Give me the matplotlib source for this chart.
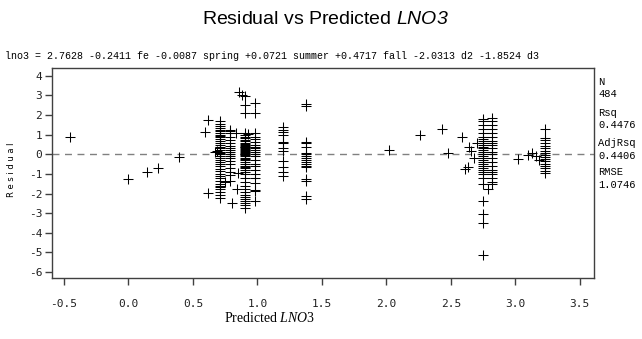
import matplotlib
matplotlib.use("Agg")
import matplotlib.pyplot as plt
import numpy as np

plt.rcParams['mathtext.fontset'] = 'custom'
plt.rcParams['mathtext.sf'] = 'Liberation Sans:italic'
plt.rcParams['mathtext.it'] = 'Liberation Serif:italic'
plt.rcParams['mathtext.rm'] = 'Liberation Serif'

# ---- data: predicted value columns and residuals ----
col_x = [0.71, 0.79, 0.90, 0.98, 1.20, 1.38, 2.75, 2.82, 3.23]
col_res = [
    [1.7, 1.55, 1.45, 1.35, 1.25, 1.2, 1.1, 1.0, 0.95, 0.9, 0.8, 0.7, 0.6, 0.5, 0.4, 0.3, 0.2, 0.1,
     0.05, 0.0, -0.1, -0.2, -0.3, -0.4, -0.5, -0.6, -0.75, -0.85, -1.0, -1.1, -1.2, -1.35, -1.5,
     -1.6, -1.65, -1.75, -1.9, -2.05, -2.2],
    [1.25, 1.2, 1.1, 0.9, 0.75, 0.6, 0.45, 0.3, 0.2, 0.1, 0.0, -0.1, -0.2, -0.35, -0.5, -0.7, -0.9,
     -1.05, -1.35],
    [2.95, 2.5, 2.1, 1.1, 1.0, 0.9, 0.85, 0.75, 0.7, 0.6, 0.55, 0.5, 0.45, 0.4, 0.35, 0.3, 0.25, 0.2,
     0.15, 0.1, 0.05, 0.0, -0.05, -0.1, -0.2, -0.25, -0.3, -0.4, -0.5, -0.6, -0.65, -0.7, -0.8, -0.9,
     -1.0, -1.2, -1.4, -1.6, -1.75, -1.9, -2.05, -2.15, -2.25, -2.4, -2.5, -2.6, -2.75],
    [2.6, 2.1, 1.1, 0.9, 0.8, 0.65, 0.5, 0.4, 0.3, 0.2, 0.1, 0.0, -0.1, -0.3, -0.5, -0.6, -0.8, -1.0,
     -1.2, -1.45, -1.8, -1.85, -2.4],
    [1.4, 1.25, 1.15, 1.0, 0.65, 0.6, 0.3, 0.15, -0.35, -0.65, -0.9, -1.1],
    [2.55, 2.45, 0.65, 0.6, 0.35, 0.05, 0.0, -0.1, -0.2, -0.3, -0.4, -0.5, -0.6, -0.65, -1.25, -1.35,
     -2.1, -2.25],
    [1.8, 1.7, 1.5, 1.3, 1.1, 0.9, 0.8, 0.7, 0.6, 0.5, 0.4, 0.3, 0.2, 0.1, 0.0, -0.1, -0.2, -0.3,
     -0.4, -0.5, -0.6, -0.7, -0.8, -0.9, -1.0, -1.2, -1.5, -2.4, -3.05, -3.5, -5.15],
    [1.85, 1.7, 1.5, 1.3, 1.1, 0.9, 0.7, 0.6, 0.5, 0.3, 0.1, 0.0, -0.2, -0.4, -0.6, -0.8, -0.9, -1.0,
     -1.2, -1.4, -1.5],
    [1.3, 0.85, 0.75, 0.6, 0.45, 0.3, 0.15, 0.05, -0.05, -0.15, -0.25, -0.35, -0.5, -0.6, -0.7, -0.85,
     -0.95],
]
# scattered individual points
sc_x = [-0.45, 0.0, 0.14, 0.23, 0.39, 0.62, 0.59, 0.62, 0.67, 0.69, 0.75, 0.80, 0.83, 0.85, 0.84,
        0.88, 0.86, 0.93, 2.02, 2.26, 2.43, 2.48, 2.59, 2.64, 2.66, 2.68, 2.63, 2.61, 2.70, 2.79,
        3.02, 3.10, 3.13, 3.16, 3.18]
sc_y = [0.9, -1.25, -0.88, -0.7, -0.15, 1.75, 1.15, -1.95, 0.1, 0.15, -1.4, -2.5, 1.1, -0.95,
        -1.75, 3.0, 3.2, 1.05, 0.2, 1.0, 1.3, 0.05, 0.9, 0.35, 0.15, -0.2, -0.65, -0.75, 0.6, -1.75,
        -0.25, -0.05, 0.05, -0.1, -0.3]

stats_labels = ["N", "Rsq", "AdjRsq", "RMSE"]
stats_values = ["484", "0.4476", "0.4406", "1.0746"]
equation = ("lno3 = 2.7628 -0.2411 fe -0.0087 spring +0.0721 summer +0.4717 fall "
            "-2.0313 d2 -1.8524 d3")
xticks = [-0.5, 0.0, 0.5, 1.0, 1.5, 2.0, 2.5, 3.0, 3.5]
yticks = [4, 3, 2, 1, 0, -1, -2, -3, -4, -5, -6]

fig = plt.figure(figsize=(6.42, 3.39), dpi=100)
ax = fig.add_axes([52/642, 1-278/339, (594-52)/642, (278-68)/339])

px, py = [], []
for x, rs in zip(col_x, col_res):
    px += [x]*len(rs)
    py += rs
px += sc_x
py += sc_y
ax.plot(px, py, linestyle='none', marker='+', color='black', markersize=6.5, markeredgewidth=0.75)
ax.axhline(0, color='#808080', linestyle=(0, (5, 4)), linewidth=1.0, zorder=0)

ax.set_xlim(-0.593, 3.61)
ax.set_ylim(-6.3, 4.4)
ax.set_xticks(xticks)
ax.set_xticklabels(["%.1f" % v for v in xticks], family='DejaVu Sans Mono', fontsize=8,
                   color='#202020')
ax.set_yticks(yticks)
ax.set_yticklabels([("%d" % v) for v in yticks], family='DejaVu Sans Mono', fontsize=8,
                   color='#202020')
ax.tick_params(direction='out', length=5, width=1, color='#404040', pad=10)
ax.tick_params(axis='y', pad=2)
for s in ax.spines.values():
    s.set_color('#404040')
    s.set_linewidth(1.0)

fig.text(325/642, 1-20/339, r'Residual vs Predicted $\mathsf{LNO3}$', family='Liberation Sans',
         fontsize=14, ha='center', va='center')
fig.text(5/642, 1-56/339, equation, family='Liberation Mono', fontsize=7.2, ha='left', va='center')
fig.text(270/642, 1-318/339, r'Predicted $\mathit{LNO3}$', family='Liberation Serif',
         fontsize=10, ha='center', va='center')
fig.text(12/642, 1-170/339, 'R e s i d u a l', family='DejaVu Sans', fontsize=6, rotation=90,
         ha='center', va='center')

ys = [82, 94, 113, 125, 143, 156, 172, 185]
labels = []
for l, v in zip(stats_labels, stats_values):
    labels += [l, v]
for t, y in zip(labels, ys):
    fig.text(598/642, 1-y/339, t, family='Liberation Mono', fontsize=7.5, ha='left', va='center')

fig.savefig('out.png', dpi=100)
